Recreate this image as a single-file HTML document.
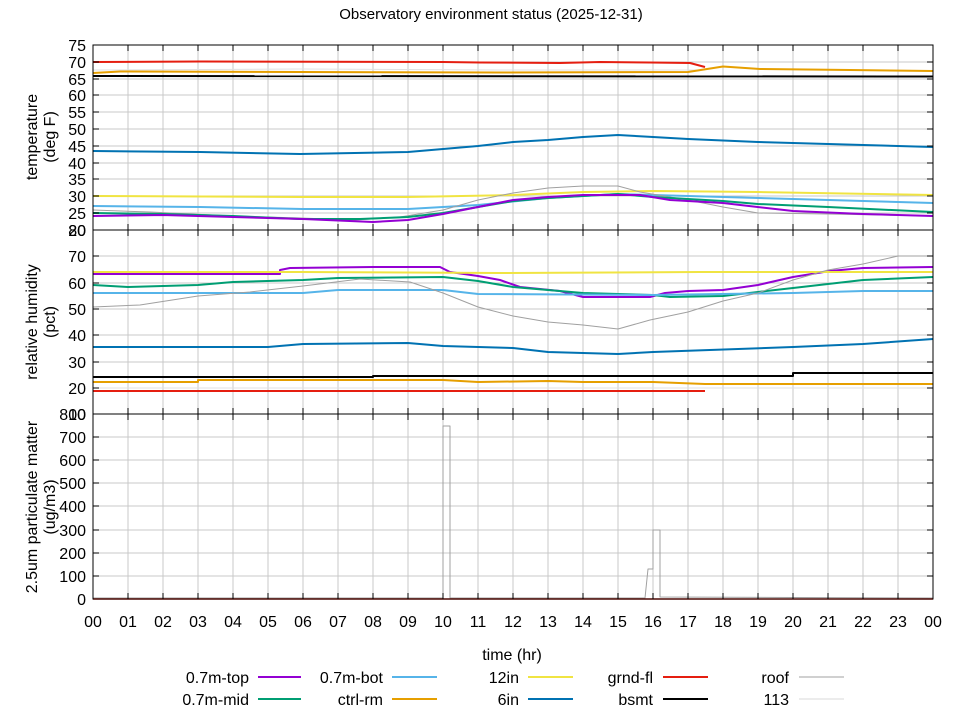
<!DOCTYPE html>
<html><head><meta charset="utf-8"><style>
html,body{margin:0;padding:0;background:#fff}
svg{display:block;font-family:"Liberation Sans","DejaVu Sans",sans-serif}
</style></head><body>
<svg width="960" height="720" viewBox="0 0 960 720" xmlns="http://www.w3.org/2000/svg">
<rect width="960" height="720" fill="#fff"/>
<text x="491" y="19" font-size="15" text-anchor="middle">Observatory environment status (2025-12-31)</text>
<g stroke="#c8c8c8" stroke-width="1">
<path d="M128,45V599M163,45V599M198,45V599M233,45V599M268,45V599M303,45V599M338,45V599M373,45V599M408,45V599M443,45V599M478,45V599M513,45V599M548,45V599M583,45V599M618,45V599M653,45V599M688,45V599M723,45V599M758,45V599M793,45V599M828,45V599M863,45V599M898,45V599"/>
<path d="M93,62H933M93,79H933M93,95H933M93,112H933M93,129H933M93,146H933M93,163H933M93,179H933M93,196H933M93,213H933"/>
<path d="M93,256H933M93,283H933M93,309H933M93,335H933M93,362H933M93,388H933"/>
<path d="M93,437H933M93,460H933M93,483H933M93,506H933M93,530H933M93,553H933M93,576H933"/>
</g>
<g font-size="16" text-anchor="end">
<text x="86" y="51">75</text><text x="86" y="68">70</text><text x="86" y="85">65</text><text x="86" y="101">60</text><text x="86" y="118">55</text><text x="86" y="135">50</text><text x="86" y="152">45</text><text x="86" y="169">40</text><text x="86" y="185">35</text><text x="86" y="202">30</text><text x="86" y="219">25</text><text x="86" y="236">20</text><text x="86" y="236">80</text>
<text x="86" y="262">70</text><text x="86" y="289">60</text><text x="86" y="315">50</text><text x="86" y="341">40</text><text x="86" y="368">30</text><text x="86" y="394">20</text><text x="86" y="420">10</text><text x="86" y="420">800</text>
<text x="86" y="443">700</text><text x="86" y="466">600</text><text x="86" y="489">500</text><text x="86" y="512">400</text><text x="86" y="536">300</text><text x="86" y="559">200</text><text x="86" y="582">100</text><text x="86" y="605">0</text>
</g>
<g font-size="16" text-anchor="middle">
<text x="93" y="627">00</text><text x="128" y="627">01</text><text x="163" y="627">02</text><text x="198" y="627">03</text><text x="233" y="627">04</text><text x="268" y="627">05</text><text x="303" y="627">06</text><text x="338" y="627">07</text><text x="373" y="627">08</text><text x="408" y="627">09</text><text x="443" y="627">10</text><text x="478" y="627">11</text><text x="513" y="627">12</text><text x="548" y="627">13</text><text x="583" y="627">14</text><text x="618" y="627">15</text><text x="653" y="627">16</text><text x="688" y="627">17</text><text x="723" y="627">18</text><text x="758" y="627">19</text><text x="793" y="627">20</text><text x="828" y="627">21</text><text x="863" y="627">22</text><text x="898" y="627">23</text><text x="933" y="627">00</text>
<text x="512" y="660">time (hr)</text>
<text transform="translate(37,137) rotate(-90)">temperature</text>
<text transform="translate(55,137) rotate(-90)">(deg F)</text>
<text transform="translate(37,322) rotate(-90)">relative humidity</text>
<text transform="translate(55,322) rotate(-90)">(pct)</text>
<text transform="translate(37,507) rotate(-90)">2.5um particulate matter</text>
<text transform="translate(55,507) rotate(-90)">(ug/m3)</text>
</g>
<g fill="none" stroke-width="2" stroke-linejoin="round">
<polyline stroke="#e0e0e0" stroke-width="1" points="93,70 300,69 500,70 705,70"/>
<polyline stroke="#e51e10" points="93,62 200,61.5 443,62 480,62.5 560,63 600,62 650,62.5 690,63 705,67"/>
<polyline stroke="#e69f00" points="93,73 120,71.5 300,72 500,72.5 688,72 723,66.5 760,69 850,70 933,71"/>
<polyline stroke="#000" points="93,76 933,76.5"/>
<polyline stroke="#0072b2" points="93,151 200,152 300,154 408,152 443,149 478,146 513,142 548,140 583,137 618,135 653,137 688,139 758,142 828,144 933,147"/>
<polyline stroke="#f0e442" points="93,196 300,197 408,197 513,195 583,192 653,191 758,192 933,195"/>
<polyline stroke="#56b4e9" points="93,206 200,207 303,209 408,209 478,205 548,198 618,194 688,196 793,199 933,203"/>
<polyline stroke="#a0a0a0" stroke-width="1" points="93,210 150,212 233,216 300,218 355,220 400,217 443,210 478,200 513,193 548,188 583,186 618,186 640,192 688,200 723,207 758,213 828,214 933,216"/>
<polyline stroke="#009e73" points="93,213 163,214 233,216 300,219 360,219 408,217 443,213 478,207 513,201 548,198 583,196 618,194 653,197 723,201 758,204 828,207 933,212"/>
<polyline stroke="#9400d3" points="93,216 163,215 233,217 303,219 373,222 408,220 443,214 478,207 513,200 548,197 583,195 640,195 670,200 723,203 793,211 863,214 933,216"/>
<polyline stroke="#9400d3" points="93,274 280,274 280,270 290,268 373,267 440,267 450,272 478,276 500,280 520,287 560,291 583,297 650,297 665,293 688,291 723,290 758,285 793,277 830,271 863,268 933,267"/>
<polyline stroke="#f0e442" points="93,272 300,272 500,273 700,272 933,272"/>
<polyline stroke="#009e73" points="93,285 128,287 198,285 233,282 303,280 338,278 443,277 478,281 513,287 548,290 583,293 653,295 670,297 723,296 758,292 793,288 828,284 863,280 933,277"/>
<polyline stroke="#56b4e9" points="93,293 303,293 338,290 443,290 478,294 653,295 793,293 863,291 933,291"/>
<polyline stroke="#a0a0a0" stroke-width="1" points="93,307 140,305 198,296 250,292 303,286 360,279 410,282 443,293 478,307 513,316 548,322 583,325 618,329 650,320 688,312 723,301 758,293 793,280 828,270 863,264 898,256 933,256"/>
<polyline stroke="#0072b2" points="93,347 268,347 303,344 408,343 443,346 513,348 548,352 618,354 653,352 793,347 863,344 933,339"/>
<polyline stroke="#000" points="93,377 373,377 373,376 793,376 793,373 933,373"/>
<polyline stroke="#e69f00" points="93,382 198,382 198,380 443,380 478,382 548,381 583,382 653,382 705,384 933,384"/>
<polyline stroke="#e0e0e0" stroke-width="1" points="93,388 705,388 933,388"/>
<polyline stroke="#e51e10" points="93,391 200,391 400,391 705,391"/>
<polyline stroke="#a0a0a0" stroke-width="1" points="93,598 443,598 443,426 450,426 450,598 645,598 648,569 653,569 653,530 660,530 660,597 933,598"/>
<polyline stroke="#e51e10" stroke-width="1.5" points="93,599 933,599"/>
</g>
<rect x="93" y="45" width="840" height="554" fill="none" stroke="#000" stroke-width="1"/>
<path d="M93,230H933M93,414H933" stroke="#000"/>
<g stroke="#000" stroke-width="1">
<path d="M128,45v6M163,45v6M198,45v6M233,45v6M268,45v6M303,45v6M338,45v6M373,45v6M408,45v6M443,45v6M478,45v6M513,45v6M548,45v6M583,45v6M618,45v6M653,45v6M688,45v6M723,45v6M758,45v6M793,45v6M828,45v6M863,45v6M898,45v6"/>
<path d="M128,224v12M163,224v12M198,224v12M233,224v12M268,224v12M303,224v12M338,224v12M373,224v12M408,224v12M443,224v12M478,224v12M513,224v12M548,224v12M583,224v12M618,224v12M653,224v12M688,224v12M723,224v12M758,224v12M793,224v12M828,224v12M863,224v12M898,224v12"/>
<path d="M128,408v12M163,408v12M198,408v12M233,408v12M268,408v12M303,408v12M338,408v12M373,408v12M408,408v12M443,408v12M478,408v12M513,408v12M548,408v12M583,408v12M618,408v12M653,408v12M688,408v12M723,408v12M758,408v12M793,408v12M828,408v12M863,408v12M898,408v12"/>
<path d="M128,599v-6M163,599v-6M198,599v-6M233,599v-6M268,599v-6M303,599v-6M338,599v-6M373,599v-6M408,599v-6M443,599v-6M478,599v-6M513,599v-6M548,599v-6M583,599v-6M618,599v-6M653,599v-6M688,599v-6M723,599v-6M758,599v-6M793,599v-6M828,599v-6M863,599v-6M898,599v-6"/>
<path d="M93,62h6M93,79h6M93,95h6M93,112h6M93,129h6M93,146h6M93,163h6M93,179h6M93,196h6M93,213h6M93,256h6M93,283h6M93,309h6M93,335h6M93,362h6M93,388h6M93,437h6M93,460h6M93,483h6M93,506h6M93,530h6M93,553h6M93,576h6"/>
<path d="M933,62h-6M933,79h-6M933,95h-6M933,112h-6M933,129h-6M933,146h-6M933,163h-6M933,179h-6M933,196h-6M933,213h-6M933,256h-6M933,283h-6M933,309h-6M933,335h-6M933,362h-6M933,388h-6M933,437h-6M933,460h-6M933,483h-6M933,506h-6M933,530h-6M933,553h-6M933,576h-6"/>
</g>
<g font-size="16" text-anchor="end">
<text x="249" y="683">0.7m-top</text><text x="383" y="683">0.7m-bot</text><text x="519" y="683">12in</text><text x="653" y="683">grnd-fl</text><text x="789" y="683">roof</text>
<text x="249" y="705">0.7m-mid</text><text x="383" y="705">ctrl-rm</text><text x="519" y="705">6in</text><text x="653" y="705">bsmt</text><text x="789" y="705">113</text>
</g>
<g stroke-width="2">
<path d="M258,677H301" stroke="#9400d3"/><path d="M392,677H437" stroke="#56b4e9"/><path d="M528,677H573" stroke="#f0e442"/><path d="M663,677H708" stroke="#e51e10"/><path d="M799,677H844" stroke="#a0a0a0" stroke-width="1"/>
<path d="M258,699H301" stroke="#009e73"/><path d="M392,699H437" stroke="#e69f00"/><path d="M528,699H573" stroke="#0072b2"/><path d="M663,699H708" stroke="#000"/><path d="M799,699H844" stroke="#d8d8d8" stroke-width="1"/>
</g>
</svg>
</body></html>
